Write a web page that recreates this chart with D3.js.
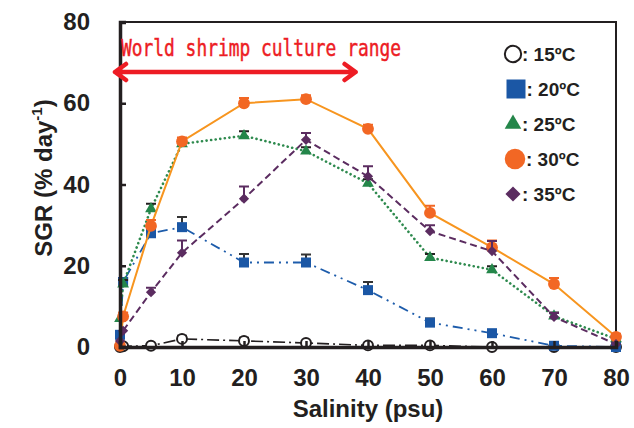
<!DOCTYPE html>
<html lang="en">
<head>
<meta charset="utf-8" />
<title>SGR vs salinity</title>
<style>
  body { margin: 0; background: #fff; }
  svg { display: block; font-family: "Liberation Sans", Arial, sans-serif; }
</style>
</head>
<body>
<svg id="viz"></svg>
<script src="https://cdnjs.cloudflare.com/ajax/libs/d3/7.8.5/d3.min.js"></script>
<script>
// salinity levels (psu)
var salinity = [0, 0.5, 5, 10, 20, 30, 40, 50, 60, 70, 80];

// SGR (% day-1) per temperature
var sgr15 = [0, 0.2, 0.3, 2, 1.5, 1, 0.4, 0.4, 0, 0, 0];
var sgr20 = [3, 16, 28, 29.5, 20.8, 20.8, 14, 6, 3.4, 0.3, 0];
var sgr25 = [7, 15.5, 34, 50, 52, 48.2, 40.3, 22, 19, 7.6, 2];
var sgr30 = [0.3, 7.5, 29.8, 50.6, 60, 61, 53.7, 33, 24.5, 15.5, 2.5];
var sgr35 = [1.5, 4, 13.5, 23.2, 36.5, 51, 42, 28.5, 23.6, 7.4, 0.7];

// upper error bars
var err15 = [0, 0, 0, 0.3, 0.3, 0, 0, 0, 0, 0, 0];
var err20 = [0, 0.5, 1, 2, 1.6, 1.5, 1.5, 0.5, 0.3, 0, 0];
var err25 = [0, 0.5, 0.8, 0.5, 0.6, 0.5, 0.5, 0.4, 0.4, 0.4, 0];
var err30 = [0, 0.5, 1, 0.5, 0.8, 0.5, 0.5, 1.3, 1.2, 1, 0.3];
var err35 = [0, 0, 0.6, 2.5, 2.5, 1.2, 2, 1, 2, 0.5, 0];

var seriesNames = ["15ºC", "20ºC", "25ºC", "30ºC", "35ºC"];
var xTicks = [0, 10, 20, 30, 40, 50, 60, 70, 80];
var yTicks = [0, 20, 40, 60, 80];
var cultureRange = [0, 38];
var cultureLabel = "World shrimp culture range";

var width = 634, height = 428;
var margin = {top: 22, right: 18, bottom: 81, left: 120};
var w = width - margin.left - margin.right;
var h = height - margin.top - margin.bottom;

var x = d3.scaleLinear().domain([0, 80]).range([0, w]);
var y = d3.scaleLinear().domain([0, 80]).range([h, 0]);

var svg = d3.select("#viz").attr("width", width).attr("height", height);
var g = svg.append("g").attr("transform", "translate(" + margin.left + "," + margin.top + ")");

// frame (top + right thinner)
g.append("path")
    .attr("d", "M0,0H" + w + "V" + h)
    .attr("fill", "none")
    .attr("stroke", "#231f20")
    .attr("stroke-width", 2);

var series = [
  {name: seriesNames[0], vals: sgr15, err: err15, line: "#231f20", fill: "#fff", stroke: "#231f20", cap: "#231f20",
   dash: "12,4,2,4", lw: 1.6, sym: "circle", size: 78, lsize: 210},
  {name: seriesNames[1], vals: sgr20, err: err20, line: "#1d5cab", fill: "#1b57a5", stroke: "none", cap: "#333",
   dash: "10,5,2,5,2,5", lw: 1.8, sym: "square", size: 100, lsize: 361},
  {name: seriesNames[2], vals: sgr25, err: err25, line: "#2e8a4e", fill: "#24864a", stroke: "none", cap: "#231f20",
   dash: "0.1,4.5", lw: 2.6, sym: "triangle", size: 60, lsize: 120},
  {name: seriesNames[3], vals: sgr30, err: err30, line: "#f7951f", fill: "#f26724", stroke: "none", cap: "#f26724",
   dash: null, lw: 2, sym: "circle", size: 110, lsize: 330},
  {name: seriesNames[4], vals: sgr35, err: err35, line: "#5b2c60", fill: "#5b2c60", stroke: "none", cap: "#5b2c60",
   dash: "7,4", lw: 2, sym: "diamond", size: 52, lsize: 115}
];

function symPath(s, size) {
  if (s === "circle") return d3.symbol(d3.symbolCircle, size)();
  if (s === "square") return d3.symbol(d3.symbolSquare, size)();
  if (s === "triangle") return d3.symbol(d3.symbolTriangle, size)();
  return d3.symbol(d3.symbolSquare, size)();
}

var line = d3.line()
    .x(function(d, i) { return x(salinity[i]); })
    .y(function(d) { return y(d); });

series.forEach(function(s) {
  var sg = g.append("g");
  sg.append("path")
      .attr("d", line(s.vals))
      .attr("fill", "none")
      .attr("stroke", s.line)
      .attr("stroke-width", s.lw)
      .attr("stroke-linecap", s.sym === "triangle" ? "round" : "butt")
      .attr("stroke-dasharray", s.dash);

  // error bars (upper only)
  s.vals.forEach(function(v, i) {
    if (!s.err[i]) return;
    var cx = x(salinity[i]), y0 = y(v), y1 = y(v + s.err[i]) - 2;
    sg.append("path")
        .attr("d", "M" + cx + "," + y0 + "V" + y1 + "M" + (cx - 5) + "," + y1 + "H" + (cx + 5))
        .attr("stroke", s.cap)
        .attr("stroke-width", 2)
        .attr("fill", "none");
  });

  sg.selectAll("path.pt")
    .data(s.vals)
    .enter()
    .append("path")
      .attr("class", "pt")
      .attr("d", symPath(s.sym, s.size))
      .attr("transform", function(d, i) {
        return "translate(" + x(salinity[i]) + "," + y(d) + ")" + (s.sym === "diamond" ? " rotate(45)" : "");
      })
      .attr("fill", s.fill)
      .attr("stroke", s.stroke)
      .attr("stroke-width", s.sym === "circle" && s.stroke !== "none" ? 2 : 0);
});

// axes
var xAxis = d3.axisBottom(x).tickValues(xTicks).tickSize(-6).tickPadding(16);
var yAxis = d3.axisLeft(y).tickValues(yTicks).tickSize(-6).tickPadding(30);

var gx = g.append("g").attr("transform", "translate(0," + h + ")").call(xAxis);
var gy = g.append("g").call(yAxis);

[gx, gy].forEach(function(a) {
  a.select(".domain").attr("stroke", "#231f20").attr("stroke-width", 3.5);
  a.selectAll(".tick line").attr("stroke", "#231f20").attr("stroke-width", 2.5);
  a.selectAll(".tick text")
      .attr("fill", "#231f20")
      .style("font-family", "'Liberation Sans', Arial, sans-serif")
      .style("font-size", "24px")
      .style("font-weight", "bold");
});
gx.selectAll(".tick text").attr("dy", "0.95em");

// axis titles
svg.append("text")
    .attr("x", margin.left + w / 2)
    .attr("y", 417)
    .attr("text-anchor", "middle")
    .attr("fill", "#231f20")
    .style("font-size", "24px")
    .style("font-weight", "bold")
    .text("Salinity (psu)");

var yt = svg.append("text")
    .attr("transform", "translate(52," + 178 + ") rotate(-90)")
    .attr("text-anchor", "middle")
    .attr("fill", "#231f20")
    .style("font-size", "24px")
    .style("font-weight", "bold");
yt.append("tspan").text("SGR (% day");
yt.append("tspan").attr("dy", -10).style("font-size", "15px").text("-1");
yt.append("tspan").attr("dy", 10).text(")");

// culture range annotation
var red = "#ed1c24";
g.append("text")
    .attr("transform", "translate(" + (x(0) + 1) + ",34) scale(1,1.15)")
    .attr("fill", red)
    .attr("stroke", red)
    .attr("stroke-width", 0.4)
    .attr("textLength", 280)
    .attr("lengthAdjust", "spacingAndGlyphs")
    .style("font-family", "'DejaVu Sans Mono', 'Liberation Mono', monospace")
    .style("font-size", "20px")
    .text(cultureLabel);

var ay = 50;
var ax0 = x(cultureRange[0]) - 5, ax1 = x(cultureRange[1]);
g.append("path")
    .attr("d", "M" + ax0 + "," + ay + "H" + ax1 +
               "M" + (ax0 + 11) + "," + (ay - 8) + "L" + ax0 + "," + ay + "L" + (ax0 + 11) + "," + (ay + 8) +
               "M" + (ax1 - 11) + "," + (ay - 8) + "L" + ax1 + "," + ay + "L" + (ax1 - 11) + "," + (ay + 8))
    .attr("fill", "none")
    .attr("stroke", red)
    .attr("stroke-width", 4.5)
    .attr("stroke-linecap", "round")
    .attr("stroke-linejoin", "round");

// legend
var lg = svg.append("g").attr("transform", "translate(513,54)");
series.forEach(function(s, i) {
  var row = lg.append("g").attr("transform", "translate(0," + (i * 35) + ")");
  var half = s.sym === "square" ? 9.5 : (s.sym === "circle" ? (s.stroke === "none" ? 10 : 8) : 8);
  var dx = s.sym === "square" ? 3 : (s.sym === "circle" && s.stroke === "none" ? 2 : 0);
  row.append("path")
      .attr("d", symPath(s.sym, s.lsize))
      .attr("transform", "translate(" + dx + ",0)" + (s.sym === "diamond" ? " rotate(45)" : ""))
      .attr("fill", s.fill)
      .attr("stroke", s.stroke)
      .attr("stroke-width", s.stroke !== "none" ? 2 : 0);
  row.append("text")
      .attr("x", dx + half + 1)
      .attr("y", 7)
      .attr("fill", "#231f20")
      .style("font-size", "19px")
      .style("font-weight", "bold")
      .text(": " + s.name);
});
</script>
</body>
</html>
